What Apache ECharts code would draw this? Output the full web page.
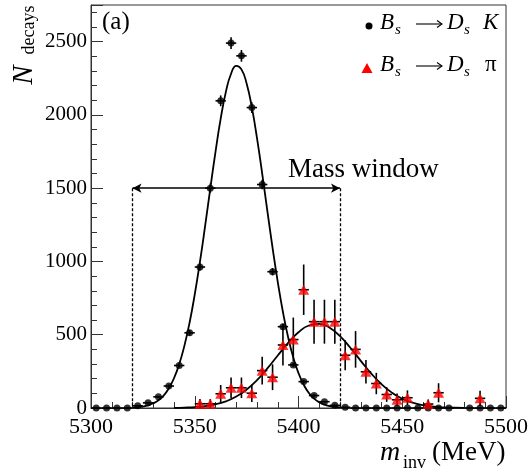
<!DOCTYPE html>
<html>
<head>
<meta charset="utf-8">
<script src="https://cdn.jsdelivr.net/npm/echarts@6/dist/echarts.min.js"></script>
<style>
html,body{margin:0;padding:0;background:#fff;}
#chart{width:531px;height:470px;}
</style>
</head>
<body>
<div id="chart"></div>
<script>
// ---- data ----
const kMass = [5302.5,5307.5,5312.5,5317.5,5322.5,5327.5,5332.5,5337.5,5342.5,5347.5,
  5352.5,5357.5,5362.5,5367.5,5372.5,5377.5,5382.5,5387.5,5392.5,5397.5,
  5402.5,5407.5,5412.5,5417.5,5422.5,5427.5,5432.5,5437.5,5442.5,5447.5,
  5452.5,5457.5,5462.5,5467.5,5472.5,5477.5,5482.5,5487.5,5492.5,5497.5];
const kCounts = [0,0,0,0,15,35,76,150,290,513,
  962,1500,2096,2490,2403,2050,1525,930,555,294,
  180,85,43,18,5,0,0,0,0,0,
  0,0,0,0,0,null,0,0,0,0];
const kErrors = [0,0,0,0,3,5,7,10,14,19,
  26,32,37,40,40,37,32,25,20,14,
  11,8,5,4,2,0,0,0,0,0,
  0,0,0,0,0,0,0,0,0,0];
const piMass = [5352.5,5357.5,5362.5,5367.5,5372.5,5377.5,5382.5,5387.5,5392.5,5397.5,
  5402.5,5407.5,5412.5,5417.5,5422.5,5427.5,5432.5,5437.5,5442.5,5447.5,
  5452.5,5462.5,5467.5,5487.5];
const piCounts = [29,29,97,138,138,101,255,210,430,467,
  807,589,589,589,360,400,247,167,92,56,
  70,27,104,66];
const piErrors = [32,32,60,70,70,60,95,88,140,150,
  172,150,150,150,102,125,80,73,50,43,
  50,31,65,52];
const binHalfWidth = 2.5;
// fitted curves
const kFitMass = [5320,5322.5,5325,5327.5,5330,5332.5,5335,5337.5,5340,5342.5,5345,5347.5,
  5350,5352.5,5355,5357.5,5360,5362.5,5365,5367.5,5370,5372.5,5375,5377.5,5380,5382.5,
  5385,5387.5,5390,5392.5,5395,5397.5,5400,5402.5,5405,5407.5,5410,5412.5,5415,5417.5,5420];
const kFitValues = [3,6,10,18,32,53,85,134,203,298,424,582,
  775,997,1242,1498,1748,1974,2157,2281,2335,2311,2214,2053,1842,1600,
  1344,1093,861,655,483,344,238,159,102,64,39,23,13,7,4];
const piFitMass = [5340,5345,5350,5355,5360,5365,5370,5375,5380,5385,5390,5395,5400,5405,
  5410,5415,5420,5425,5430,5435,5440,5445,5450,5455,5460,5465,5470,5475,5480];
const piFitValues = [1,3,6,12,25,45,78,126,190,270,358,444,517,563,
  574,548,490,411,322,236,163,105,63,36,19,9,4,2,1];
// mass window annotation
const massWindow = [5320, 5420];
const windowLevel = 1500;
// axes
const xRange = [5300, 5500];
const xStep = 50;
const yRange = [0, 2750];
const yStep = 500;
const yMinorStep = 100;

// ---- chart ----
const SERIF = '"Liberation Serif", "Times New Roman", serif';
const chart = echarts.init(document.getElementById('chart'), null, {renderer:'canvas'});

const kPoints = kMass.map((m,i)=>[m,kCounts[i],kErrors[i]]).filter(p=>p[1]!==null);
const piPoints = piMass.map((m,i)=>[m,piCounts[i],piErrors[i]]);

function errorBars(params, api){
  const x = api.value(0), y = api.value(1), e = api.value(2);
  const c = api.coord([x,y]);
  const top = api.coord([x,y+e]);
  const bot = api.coord([x,Math.max(y-e,0)]);
  const l = api.coord([x-binHalfWidth,y]);
  const r = api.coord([x+binHalfWidth,y]);
  const st = {stroke:'#000', lineWidth:1.6};
  return {type:'group', children:[
    {type:'line', shape:{x1:c[0],y1:top[1],x2:c[0],y2:bot[1]}, style:st},
    {type:'line', shape:{x1:l[0],y1:c[1],x2:r[0],y2:c[1]}, style:st}
  ]};
}

function legendArrow(x1, x2, y){
  return {type:'group', children:[
    {type:'line', shape:{x1:x1, y1:y, x2:x2, y2:y}, style:{stroke:'#000', lineWidth:1.1}},
    {type:'polyline', shape:{points:[[x2-5,y-3.5],[x2,y],[x2-5,y+3.5]]}, style:{stroke:'#000', lineWidth:1.1, fill:null}}
  ]};
}

const tickTextStyle = {fontFamily:SERIF, color:'#000'};
const option = {
  animation:false,
  grid:{left:91, right:21, top:5, bottom:62, show:true, borderColor:'#333', borderWidth:1, backgroundColor:'transparent'},
  xAxis:{type:'value', min:xRange[0], max:xRange[1], interval:xStep,
    axisLine:{lineStyle:{color:'#333', width:1}},
    axisTick:{inside:true, length:12, lineStyle:{color:'#333'}},
    minorTick:{show:true, splitNumber:5, length:6, lineStyle:{color:'#333'}},
    splitLine:{show:false},
    axisLabel:Object.assign({fontSize:22, margin:8, formatter:v=>String(v)}, tickTextStyle)},
  yAxis:[{type:'value', min:yRange[0], max:yRange[1], interval:yStep,
    axisLine:{show:true, lineStyle:{color:'#333', width:1}},
    axisTick:{inside:true, length:12, lineStyle:{color:'#333'}},
    splitLine:{show:false},
    axisLabel:Object.assign({fontSize:21, margin:4, showMaxLabel:true,
      formatter:v=> (v % yStep === 0 ? String(v) : '')}, tickTextStyle)},
   {type:'value', min:yRange[0], max:yRange[1], interval:yMinorStep, position:'left',
    axisLine:{show:false}, axisLabel:{show:false}, splitLine:{show:false},
    axisTick:{show:true, inside:true, length:6, lineStyle:{color:'#333'}}}],
  series:[
    {type:'line', data:kFitMass.map((m,i)=>[m,kFitValues[i]]), showSymbol:false, smooth:true,
      lineStyle:{color:'#000', width:1.8}, z:3,
      markLine:{silent:true, animation:false, label:{show:false},
        data:[
          [{coord:[massWindow[0],windowLevel], symbol:'arrow', symbolSize:[7,9]},
           {coord:[massWindow[1],windowLevel], symbol:'arrow', symbolSize:[7,9],
            lineStyle:{color:'#000', width:1.6, type:'solid'}}],
          [{coord:[massWindow[0],windowLevel], symbol:'none'},
           {coord:[massWindow[0],0], symbol:'none', lineStyle:{color:'#000', width:1.3, type:[3,2]}}],
          [{coord:[massWindow[1],windowLevel], symbol:'none'},
           {coord:[massWindow[1],0], symbol:'none', lineStyle:{color:'#000', width:1.3, type:[3,2]}}]
        ],
        lineStyle:{color:'#000', width:1.6, type:'solid'}}},
    {type:'line', data:piFitMass.map((m,i)=>[m,piFitValues[i]]), showSymbol:false, smooth:true,
      lineStyle:{color:'#000', width:1.8}, z:3},
    {type:'custom', data:kPoints, renderItem:errorBars, z:4},
    {type:'custom', data:piPoints, renderItem:errorBars, z:4},
    {type:'scatter', data:kPoints, symbol:'circle', symbolSize:7, itemStyle:{color:'#000'}, z:5},
    {type:'scatter', data:piPoints, symbol:'triangle', symbolSize:[11,10], itemStyle:{color:'#ff0000'}, z:6}
  ],
  graphic:[
    {type:'text', x:102, y:22, style:{text:'(a)', font:'25px '+SERIF, fill:'#000', textVerticalAlign:'middle'}},
    {type:'text', x:24, y:75, rotation:Math.PI/2, style:{text:'N', font:'italic 29px '+SERIF, fill:'#000', textAlign:'center', textVerticalAlign:'middle'}},
    {type:'text', x:29, y:30, rotation:Math.PI/2, style:{text:'decays', font:'18px '+SERIF, fill:'#000', textAlign:'center', textVerticalAlign:'middle'}},
    {type:'text', x:288, y:170, style:{text:'Mass window', font:'27px '+SERIF, fill:'#000', textVerticalAlign:'middle'}},
    // x title
    {type:'text', x:380, y:453, style:{text:'m', font:'italic 28px '+SERIF, fill:'#000', textVerticalAlign:'middle'}},
    {type:'text', x:403, y:463, style:{text:'inv', font:'18px '+SERIF, fill:'#000', textVerticalAlign:'middle'}},
    {type:'text', x:432, y:453, style:{text:'(MeV)', font:'27px '+SERIF, fill:'#000', textVerticalAlign:'middle'}},
    // legend
    {type:'circle', shape:{cx:369, cy:26, r:3.5}, style:{fill:'#000'}},
    {type:'text', x:380, y:23, style:{text:'B', font:'italic 23px '+SERIF, fill:'#000', textVerticalAlign:'middle'}},
    {type:'text', x:395, y:30, style:{text:'s', font:'italic 15px '+SERIF, fill:'#000', textVerticalAlign:'middle'}},
    legendArrow(416, 442, 24),
    {type:'text', x:447, y:23, style:{text:'D', font:'italic 23px '+SERIF, fill:'#000', textVerticalAlign:'middle'}},
    {type:'text', x:464, y:30, style:{text:'s', font:'italic 15px '+SERIF, fill:'#000', textVerticalAlign:'middle'}},
    {type:'text', x:483, y:23, style:{text:'K', font:'italic 23px '+SERIF, fill:'#000', textVerticalAlign:'middle'}},
    {type:'polygon', shape:{points:[[367,63],[361.5,73],[372.5,73]]}, style:{fill:'#ff0000'}},
    {type:'text', x:380, y:65, style:{text:'B', font:'italic 23px '+SERIF, fill:'#000', textVerticalAlign:'middle'}},
    {type:'text', x:395, y:72, style:{text:'s', font:'italic 15px '+SERIF, fill:'#000', textVerticalAlign:'middle'}},
    legendArrow(416, 442, 66),
    {type:'text', x:447, y:65, style:{text:'D', font:'italic 23px '+SERIF, fill:'#000', textVerticalAlign:'middle'}},
    {type:'text', x:464, y:72, style:{text:'s', font:'italic 15px '+SERIF, fill:'#000', textVerticalAlign:'middle'}},
    {type:'text', x:485, y:65, style:{text:'\u03c0', font:'23px '+SERIF, fill:'#000', textVerticalAlign:'middle'}}
  ]
};
chart.setOption(option);
</script>
</body>
</html>
